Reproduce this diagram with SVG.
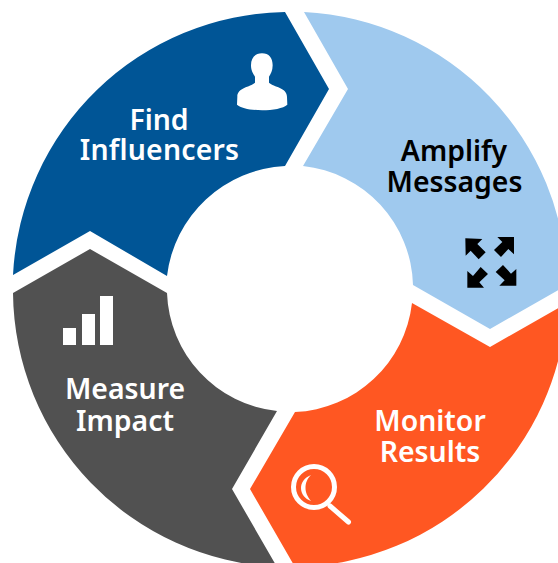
<svg xmlns="http://www.w3.org/2000/svg" width="558" height="563" viewBox="0 0 558 563">
<style>
text{font-family:"Noto Sans","Open Sans","Liberation Sans",sans-serif;font-size:28.4px;font-weight:600;text-anchor:middle;fill:#fff}
.dark{fill:#000}
.w{fill:#fff}
</style>
<rect width="558" height="563" fill="#fff"/>
<g id="connectors"></g>
<g id="find-influencers">
<path fill="#005596" d="M285 12 L329 89 L285 166 A125 125 0 0 0 167 276 L90 231 L13 275 A277 277 0 0 1 285 12Z"/>
<path class="w" transform="translate(200 0) scale(.3333)" d="M186 160C165 160 153 174 153 196C153 212 160 222 165 230L165 248C150 262 112 262 112 290L111 314C135 336 238 336 262 314L261 290C261 262 222 262 207 248L207 230C212 222 218 212 218 196C218 174 207 160 186 160Z"/>
<text x="159" y="130">Find</text><text x="159.500" y="160" letter-spacing=".2">Influencers</text>
</g>
<g id="amplify-messages">
<path fill="#9FC9EE" d="M304 12 A277 277 0 0 1 567 285 L490 329 L413 285 A123 123 0 0 0 303 166 L348 89Z"/>
<g transform="translate(440 220) scale(.3333)">
<polygon points="76,55 127,57 112,72 137,97 116,118 92,92 77,107"/>
<polygon points="222,51 222,103 205,87 183,111 162,90 187,66 172,51"/>
<polygon points="82,203 82,153 99,168 122,141 144,162 118,187 132,203"/>
<polygon points="229,197 178,197 194,181 167,156 189,135 213,161 229,147"/>
</g>
<text class="dark" x="454" y="161">Amplify</text><text class="dark" x="454.500" y="192">Messages</text>
</g>
<g id="monitor-results">
<path fill="#FF5722" d="M490 347 L567 303 A277 277 0 0 1 295 567 L250 489 L295 412 A123 123 0 0 0 412 303Z"/>
<circle cx="314" cy="487" r="20.500" fill="none" stroke="#fff" stroke-width="5"/>
<path class="w" d="M311 475C304 478 301 483 301 488C301 494 305 499 311 501C307 496 305.500 492 305.500 488C305.500 483 307 479 311 475Z"/>
<line x1="330" y1="506" x2="348.500" y2="522" stroke="#fff" stroke-width="5" stroke-linecap="round"/>
<text x="430" y="431">Monitor</text><text x="430" y="462">Results</text>
</g>
<g id="measure-impact">
<path fill="#515151" d="M90 249 L167 293 A123 123 0 0 0 277 411 L232 489 L277 567 A277 277 0 0 1 13 293Z"/>
<rect class="w" x="63" y="328" width="13" height="17"/>
<rect class="w" x="82" y="314" width="13" height="31"/>
<rect class="w" x="100" y="296" width="13" height="49"/>
<text x="125" y="399">Measure</text><text x="125" y="431">Impact</text>
</g>
</svg>
